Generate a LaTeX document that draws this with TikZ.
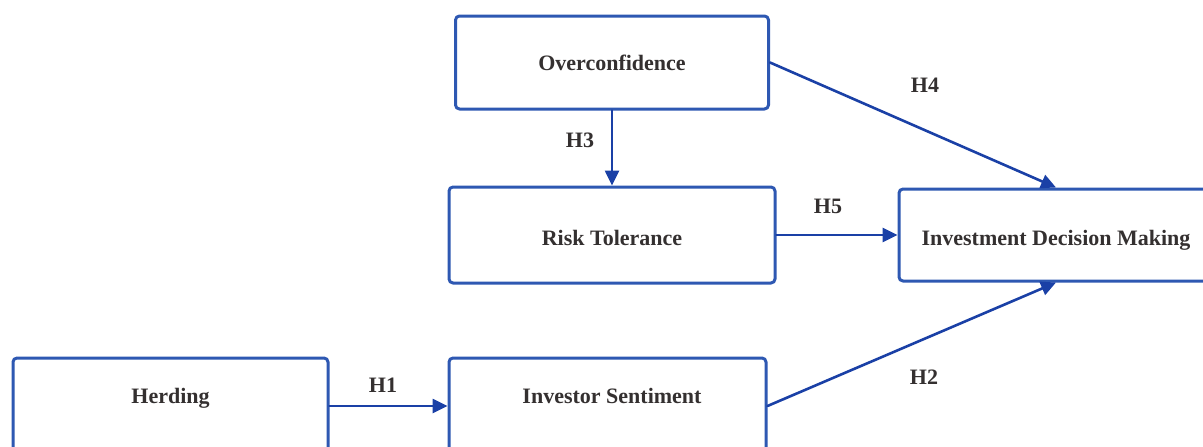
\documentclass[tikz,border=0pt]{standalone}
\usepackage{fontspec}
\setmainfont{Liberation Serif}
\usepackage{tikz}
\usetikzlibrary{arrows.meta}
\definecolor{boxblue}{RGB}{46,88,178}
\definecolor{arrowblue}{RGB}{26,64,166}
\definecolor{txtgray}{RGB}{52,48,48}
\begin{document}
\begin{tikzpicture}[line cap=round,line join=round,>={Triangle[length=15pt,width=14pt]},x=1pt,y=-1pt,
  box/.style={draw=boxblue,line width=3pt,rounded corners=4pt,fill=white,text=txtgray,font=\fontsize{22}{26}\selectfont\bfseries},
  hyp/.style={draw=arrowblue,line width=2.6pt,->},
  hlabel/.style={text=txtgray,font=\fontsize{22}{26}\selectfont\bfseries},
  lowtext/.style={text height=16pt,text depth=22pt},
  droptext/.style={text height=22pt,text depth=2pt}]
\useasboundingbox (0,0) rectangle (1203,447);
\clip (0,0) rectangle (1203,447);
\node [box,minimum width=313pt,minimum height=93pt] (over) at (612,62.5) {Overconfidence};
\node [box,droptext,minimum width=326pt,minimum height=96pt] (risk) at (612,235) {Risk Tolerance};
\node [box,droptext,minimum width=314pt,minimum height=92pt] (idm) at (1056,235) {Investment Decision Making};
\node [box,lowtext,minimum width=315pt,minimum height=96pt] (herd) at (170.5,406) {Herding};
\node [box,lowtext,minimum width=317pt,minimum height=96pt] (sent) at (607.5,406) {\hspace{9pt}Investor Sentiment};
\draw [hyp] (over.south) -- (risk.north);
\draw [hyp] (over.east) -- (idm.north);
\draw [hyp] (risk.east) -- (idm.west);
\draw [hyp] (herd.east) -- (sent.west);
\draw [hyp] (sent.east) -- (idm.south);
\node [hlabel] (h3) at (580,140) {H3};
\node [hlabel] (h4) at (925,85) {H4};
\node [hlabel] (h5) at (828,206) {H5};
\node [hlabel] (h1) at (383,385) {H1};
\node [hlabel] (h2) at (924,377) {H2};
\end{tikzpicture}
\end{document}
